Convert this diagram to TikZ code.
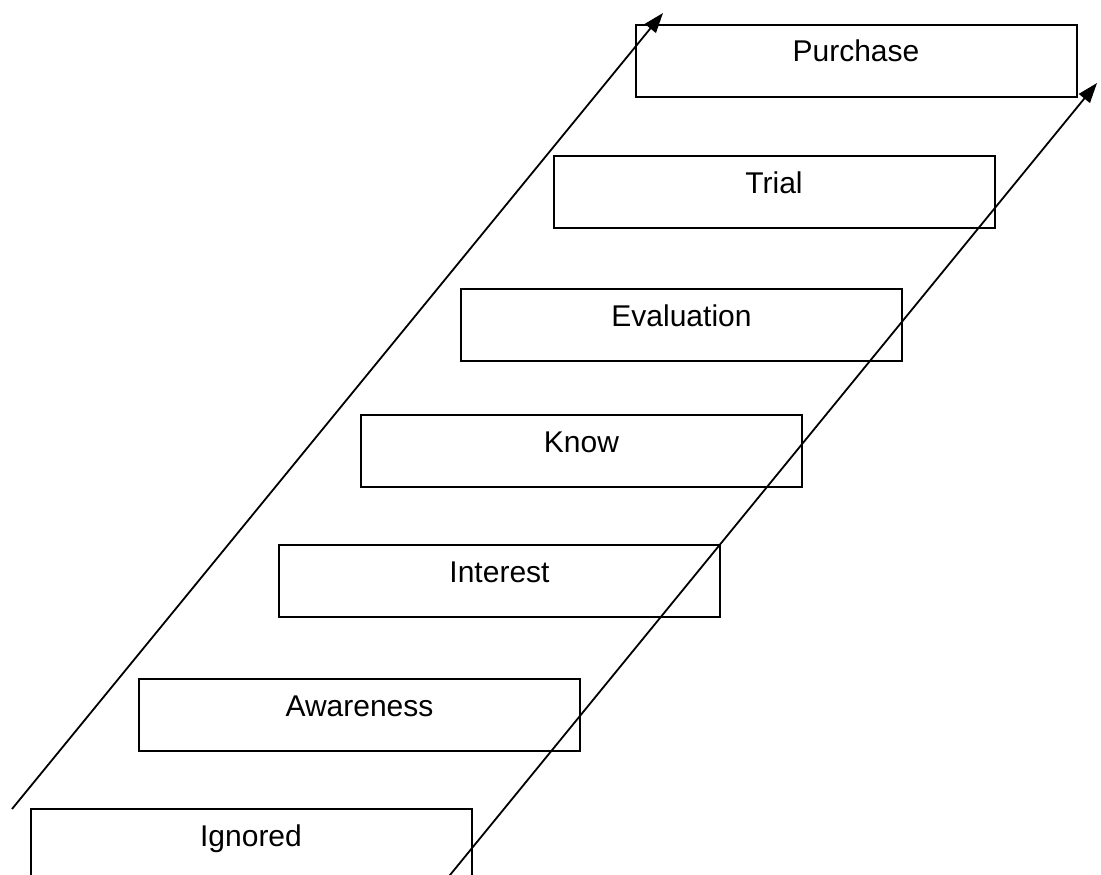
\documentclass[tikz,border=0pt]{standalone}
\usepackage{fontspec}
\setmainfont{Liberation Sans}
\usetikzlibrary{arrows.meta}
\tikzset{
  stagebox/.style={draw=black, line width=2pt, rectangle, inner sep=0pt,
    minimum width=441pt, minimum height=72pt},
  stagetext/.style={anchor=base, inner sep=0pt, font=\fontsize{30}{36}\selectfont},
  flow/.style={draw=black, line width=1.8pt, -{Triangle[length=20pt,width=14pt]}}
}
\begin{document}
\begin{tikzpicture}[x=1pt,y=-1pt]
\useasboundingbox (0,0) rectangle (1101,875);
\clip (0,0) rectangle (1101,875);
\fill[white] (0,0) rectangle (1101,875);
% boxes (centres)
\node[stagebox] (b7) at (856,61) {};
\node[stagebox] (b6) at (774,192) {};
\node[stagebox] (b5) at (681.5,325) {};
\node[stagebox] (b4) at (581.5,451) {};
\node[stagebox] (b3) at (499.5,581) {};
\node[stagebox] (b2) at (359.5,715) {};
\node[stagebox] (b1) at (251,845) {};
% texts
\node[stagetext] (t7) at ([yshift=-38pt]b7.north) {Purchase};
\node[stagetext] (t6) at ([yshift=-38pt]b6.north) {Trial};
\node[stagetext] (t5) at ([yshift=-38pt]b5.north) {Evaluation};
\node[stagetext] (t4) at ([yshift=-38pt]b4.north) {Know};
\node[stagetext] (t3) at ([yshift=-38pt]b3.north) {Interest};
\node[stagetext] (t2) at ([yshift=-38pt]b2.north) {Awareness};
\node[stagetext] (t1) at ([yshift=-38pt]b1.north) {Ignored};
% arrows
\coordinate (ls) at (12,809);
\coordinate (lt) at (663,13);
\coordinate (rs) at (444.3,882);
\coordinate (rt) at (1097,83);
\draw[flow] (ls) -- (lt);
\draw[flow] (rs) -- (rt);
\end{tikzpicture}
\end{document}
